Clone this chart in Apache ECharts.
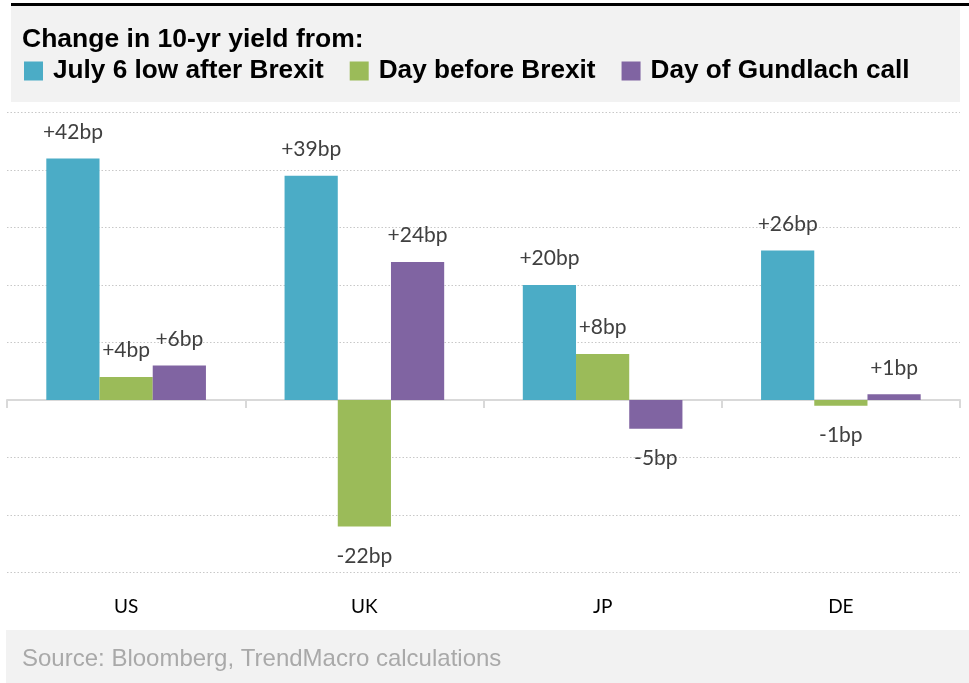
<!DOCTYPE html>
<html>
<head>
<meta charset="utf-8">
<script src="https://cdn.jsdelivr.net/npm/echarts@6/dist/echarts.min.js"></script>
<style>
  html, body { margin: 0; padding: 0; background: #ffffff; }
  #chart { width: 969px; height: 683px; }
</style>
</head>
<body>
<div id="chart"></div>
<script>
// Countries and yield changes (basis points)
const categories = ['US', 'UK', 'JP', 'DE'];
const seriesNames = ['July 6 low after Brexit', 'Day before Brexit', 'Day of Gundlach call'];
const julyLow = [42, 39, 20, 26];
const dayBefore = [4, -22, 8, -1];
const gundlachDay = [6, 24, -5, 1];
const seriesColors = ['#4BACC6', '#9BBB59', '#8064A2'];

const labelFont = 'Lato, "Open Sans", sans-serif';
const headFont = '"Liberation Sans", Arial, sans-serif';

function withLabels(values) {
  return values.map(v => ({
    value: v,
    label: v >= 0
      ? { position: 'top', distance: 16 }
      : { position: 'bottom', distance: 19 }
  }));
}

function barSeries(name, values, color) {
  return {
    name: name,
    type: 'bar',
    xAxisIndex: 0,
    yAxisIndex: 0,
    data: withLabels(values),
    itemStyle: { color: color },
    barGap: '0%',
    barCategoryGap: '33%',
    label: {
      show: true,
      color: '#404040',
      fontFamily: labelFont,
      fontSize: 21,
      formatter: p => (p.value > 0 ? '+' : '') + p.value + 'bp'
    },
    emphasis: { disabled: true },
    animation: false
  };
}

const chart = echarts.init(document.getElementById('chart'), null, { renderer: 'canvas' });

chart.setOption({
  backgroundColor: '#ffffff',
  animation: false,
  graphic: [
    { type: 'rect', z: -10, shape: { x: 11, y: 6, width: 949, height: 96 }, style: { fill: '#f2f2f2' } },
    { type: 'rect', z: -10, shape: { x: 11, y: 3, width: 958, height: 3 }, style: { fill: '#000000' } },
    { type: 'rect', z: -10, shape: { x: 6, y: 630, width: 963, height: 53 }, style: { fill: '#f2f2f2' } },
    {
      type: 'text', left: 22, top: 647,
      style: { text: 'Source: Bloomberg, TrendMacro calculations', fill: '#a9a9a9',
               font: '24px "Liberation Sans", Arial, sans-serif' }
    }
  ],
  title: {
    text: 'Change in 10-yr yield from:',
    left: 17,
    top: 21,
    textStyle: {
      fontFamily: headFont,
      fontWeight: 'bold',
      fontSize: 26.5,
      color: '#000000'
    }
  },
  legend: {
    left: 19,
    top: 53,
    itemWidth: 19,
    itemHeight: 19,
    itemGap: 26,
    icon: 'rect',
    selectedMode: false,
    data: seriesNames,
    textStyle: {
      fontFamily: headFont,
      fontWeight: 'bold',
      fontSize: 26.2,
      color: '#000000',
      padding: [0, 0, 0, 5]
    }
  },
  grid: { left: 7, right: 9, top: 112.5, bottom: 110.5, containLabel: false },
  xAxis: [
    {
      type: 'category',
      data: categories,
      axisLine: { onZero: true, lineStyle: { color: '#d9d9d9', width: 2 } },
      axisTick: { show: true, length: 8, lineStyle: { color: '#d9d9d9', width: 2 } },
      axisLabel: { show: false }
    },
    {
      type: 'category',
      data: categories,
      position: 'bottom',
      axisLine: { show: false, onZero: false },
      axisTick: { show: false },
      axisLabel: {
        show: true,
        margin: 25,
        color: '#000000',
        fontFamily: labelFont,
        fontSize: 19
      }
    }
  ],
  yAxis: {
    type: 'value',
    min: -30,
    max: 50,
    interval: 10,
    axisLine: { show: false },
    axisTick: { show: false },
    axisLabel: { show: false },
    splitLine: { show: true, lineStyle: { color: '#c8c8c8', type: [1.5, 2], width: 1 } }
  },
  series: [
    barSeries(seriesNames[0], julyLow, seriesColors[0]),
    barSeries(seriesNames[1], dayBefore, seriesColors[1]),
    barSeries(seriesNames[2], gundlachDay, seriesColors[2])
  ]
});
</script>
</body>
</html>
